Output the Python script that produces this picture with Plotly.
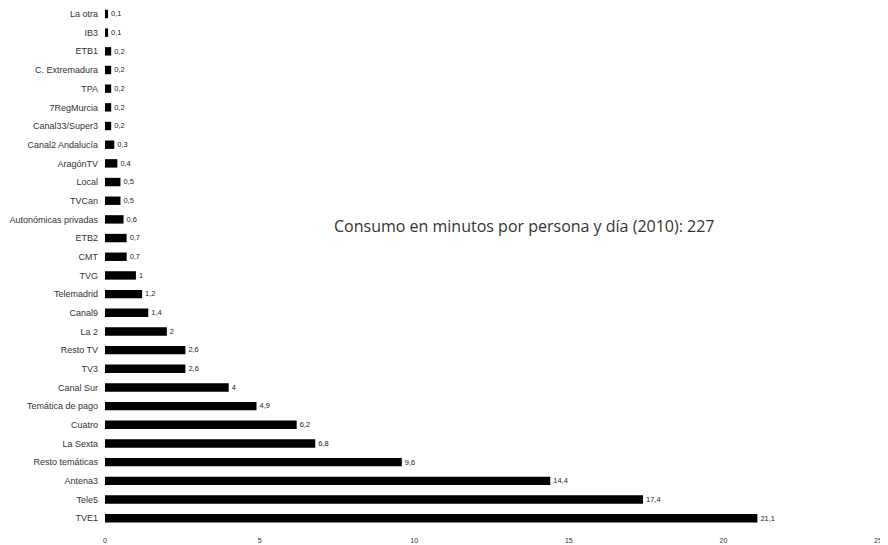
import plotly.graph_objects as go

canales = ["La otra", "IB3", "ETB1", "C. Extremadura", "TPA", "7RegMurcia",
           "Canal33/Super3", "Canal2 Andalucía", "AragónTV", "Local", "TVCan",
           "Autonómicas privadas", "ETB2", "CMT", "TVG", "Telemadrid", "Canal9",
           "La 2", "Resto TV", "TV3", "Canal Sur", "Temática de pago", "Cuatro",
           "La Sexta", "Resto temáticas", "Antena3", "Tele5", "TVE1"]
minutos = [0.1, 0.1, 0.2, 0.2, 0.2, 0.2, 0.2, 0.3, 0.4, 0.5, 0.5, 0.6, 0.7, 0.7,
           1, 1.2, 1.4, 2, 2.6, 2.6, 4, 4.9, 6.2, 6.8, 9.6, 14.4, 17.4, 21.1]
x_ticks = [0, 5, 10, 15, 20, 25]
titulo = "Consumo en minutos por persona y día (2010): 227"

etiquetas = [(f"{v:g}").replace(".", ",") for v in minutos]

fig = go.Figure(go.Bar(
    y=canales, x=minutos, orientation="h",
    marker=dict(color="black", line=dict(width=0)),
    text=etiquetas, textposition="outside", cliponaxis=False,
    textfont=dict(family="Liberation Sans", size=8, color="#222"),
))
fig.update_layout(
    width=880, height=537,
    margin=dict(l=97, r=10, t=0, b=10),
    paper_bgcolor="white", plot_bgcolor="white",
    bargap=0.55, showlegend=False,
    xaxis=dict(range=[0, 25], tickvals=x_ticks, showgrid=False, zeroline=False,
               showline=False, ticks="", automargin=False,
               tickfont=dict(family="Liberation Sans", size=7, color="#333")),
    yaxis=dict(categoryorder="array", categoryarray=canales, range=[27.9, -0.32],
               showgrid=False, showline=False, ticks="", automargin=False,
               ticklabelstandoff=6,
               tickfont=dict(family="Liberation Sans", size=9, color="#333")),
    annotations=[dict(text=titulo, x=0.543, y=0.586, xref="paper", yref="paper",
                      showarrow=False, font=dict(family="Open Sans", size=16, color="#333"))],
)
fig.write_html("out.html")
